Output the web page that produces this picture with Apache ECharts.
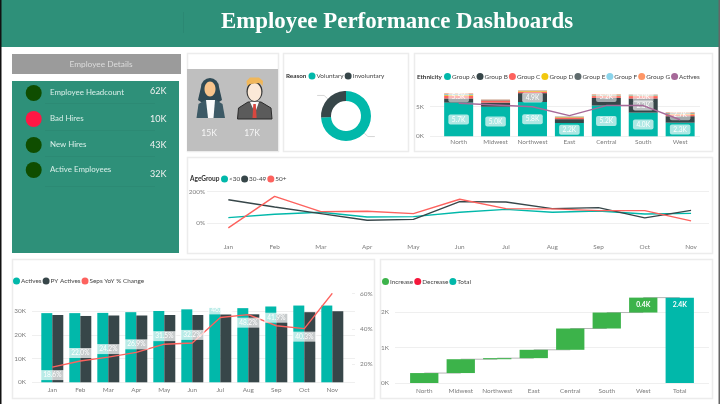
<!DOCTYPE html>
<html><head><meta charset="utf-8">
<style>html,body{margin:0;padding:0;background:#fff}#c{width:720px;height:404px}</style>
<script src="https://cdn.jsdelivr.net/npm/echarts@6/dist/echarts.min.js"></script>
</head><body><div id="c"></div>
<script>
const regions = ['North','Midwest','Northwest','East','Central','South','West'];
const groupA = [5.7,5.0,5.8,2.25,5.2,4.0,2.3];
const groupB = [0.7,0.7,1.5,0.65,1.3,2.4,1.1];
const groupC = [0.45,0.35,0.25,0.25,0.3,0.4,0.3];
const groupD = [0.12,0.02,0.1,0.08,0.08,0.08,0.1];
const groupE = [0.1,0.1,0.05,0.05,0.05,0.05,0.1];
const groupF = [0.13,0.02,0.05,0.08,0.12,0.12,0.1];
const groupG = [0.1,0.05,0.05,0.05,0.1,0.05,0.1];
const activesByRegion = [5.6,5.3,5.0,3.5,5.2,5.2,2.8];
const labelsA = ['5.7K','5.0K','5.8K','2.2K','5.2K','4.0K','2.3K'];
const labelsB = ['','','4.9K','','','2.3K',''];
const labelsC = ['5.5K','','','','5.2K','5.0K','2.7K'];

const months = ['Jan','Feb','Mar','Apr','May','Jun','Jul','Aug','Sep','Oct','Nov'];
const ageUnder30 = [36,57,70,40,42,70,88,70,78,59,63];
const age30to49 = [149,103,61,19,25,137,135,93,99,34,82];
const age50plus = [-29,170,74,76,61,152,93,91,80,80,15];

const actives = [29.2,29.2,29.3,29.6,30.1,30.8,31.4,31.3,32,32.4,32.4];
const pyActives = [28.4,28.0,28.2,28.2,28.4,28.4,28.7,28.7,28.9,29.6,30];
const sepsYoY = [18.6,22.0,24.2,26.9,31.5,32.2,46.6,48.2,41.9,40.3,60.2];
const sepsLabelSide = ['bottom','top','top','top','top','top','top','bottom','top','bottom','bottom'];

const waterfallCats = ['North','Midwest','Northwest','East','Central','South','West','Total'];
const waterfallInc = [0.28,0.39,0.03,0.235,0.6,0.45,0.42];
const waterfallTotal = 2.4;
const waterfallLabels = ['','','','','','','0.4K','2.4K'];

const reasonNames = ['Voluntary','Involuntary'];
const reasonValues = [74,26];
const kpiNames = ['Employee Headcount','Bad Hires','New Hires','Active Employees'];
const kpiValues = ['62K','10K','43K','32K'];
const genderCounts = ['15K','17K'];

const FONT = 'Lato,"Noto Sans",sans-serif';
const TEAL='#01B8AA',DARK='#374649',RED='#FD625E',YEL='#F2C80F',GREY='#5F6B6D',BLUE='#8AD4EB',ORG='#FE9666',PUR='#A66999';
const HEAD='#2E9079';
const GRIDC='#efefef', AX='#7d7d7d';
const SMALL=6.4;

function panel(x,y,w,h){return {type:'rect',z:-10,shape:{x:x+.5,y:y+.5,width:w,height:h},style:{fill:'#fff',stroke:'#ececec',lineWidth:1.5}};}
function box(x,y,w,h,fill,z){return {type:'rect',z:z||-9,shape:{x,y,width:w,height:h},style:{fill}};}
function txt(x,y,t,o){return {type:'text',z:-5,x,y,style:Object.assign({text:t,fontFamily:FONT,fontSize:8.5,fill:'#fff',textVerticalAlign:'middle',verticalAlign:'middle'},o||{})};}
function poly(pts,fill,stroke){return {type:'polygon',z:-6,shape:{points:pts},style:{fill,stroke:stroke||null,lineWidth:stroke?1:0}};}
function circ(cx,cy,r,fill){return {type:'circle',z:-6,shape:{cx,cy,r},style:{fill}};}
function ell(cx,cy,rx,ry,fill){return {type:'ellipse',z:-6,shape:{cx,cy,rx,ry},style:{fill}};}

const kpiY=[93,119,145,170], kpiVY=[91,119,145,174], kpiC=['#0F4D00','#FF1744','#0F4D00','#0F4D00'];
const lineY=[103,130,156,186];
const graphics=[
  box(0,0,720,404,'#fff',-20),
  box(1,0,718,47,HEAD),
  box(0,0,1.5,404,'#111',-4),
  box(718.5,0,1.5,404,'#666',-4),
  box(183,12,.6,21,'#2a8470',-8),
  txt(397,22.5,'Employee Performance Dashboards',{fontFamily:'"Liberation Serif",serif',fontWeight:'bold',fontSize:22.9,fill:'#fff',textAlign:'center',align:'center'}),
  box(12,54,169,20,'#9b9b9b'),
  txt(101,64,'Employee Details',{fontSize:8.3,fill:'#dcdcdc',textAlign:'center',align:'center'}),
  box(12,81,167,172,HEAD),
  panel(187,53,91,98),
  box(187,69,91,82,'#bfbfbf'),
  panel(283,53,125,98),
  panel(414,53,298,98),
  panel(187,157,525,96),
  panel(12,259,362,139),
  panel(380,259,332,139),
  // woman
  circ(210,87,9,'#2F4A55'),
  poly([[201,87],[219,87],[222,100],[216,104],[204,104],[198,100]],'#2F4A55'),
  ell(210,89,5.5,7.5,'#F7C48C'),
  poly([[196.5,118],[198.5,104],[205,100],[216,100],[222.5,104],[225,118]],'#3D5A66'),
  poly([[206,100],[215,100],[213.5,118],[208,118]],'#FAFAFA'),
  // man
  ell(254.5,91.5,8,10,'#333'),
  ell(254.5,92,6.8,9,'#FBE9D7'),
  poly([[247,86],[246.5,81],[250,77.5],[259,77.5],[263,81],[262.5,86],[260,83],[250,84]],'#F0B75A'),
  poly([[237.5,119],[238.5,108],[248,102],[261,102],[271,108],[272,119]],'#5B5B5B','#2b2b2b'),
  poly([[250,102],[259,102],[255,113]],'#FAFAFA'),
  poly([[253.3,104],[255.8,104],[256.6,118],[252.5,118]],'#D9473F'),
  txt(209,133,genderCounts[0],{fontSize:8.6,textAlign:'center',align:'center',fill:'#f6f6f6'}),
  txt(252,133,genderCounts[1],{fontSize:8.6,textAlign:'center',align:'center',fill:'#f6f6f6'}),
  txt(286,76,'Reason',{fontSize:6.3,fontWeight:'bold',fill:'#333'}),
  txt(417,76.5,'Ethnicity',{fontSize:6.3,fontWeight:'bold',fill:'#333'}),
  txt(190,179,'AgeGroup',{fontSize:6.5,fontWeight:'bold',fill:'#333'})
];
kpiNames.forEach((n,i)=>{
  graphics.push(circ(33.7,kpiY[i],8,kpiC[i]));
  graphics.push(txt(50,kpiY[i]-1,n,{fontSize:7.9,fill:'#d9efe9'}));
  graphics.push(txt(150,kpiVY[i],kpiValues[i],{fontSize:9,fill:'#f2f2f2'}));
  graphics.push(box(45,lineY[i],110,.6,'#2a8470',-8));
});

// gridline-and-label axis layers, sharing their pixel scale with the data layers
function overlayY(idx,min,max,interval,fmt,extra){return Object.assign({type:'value',gridIndex:idx,min,max,interval,
  axisLine:{show:false},axisTick:{show:false},splitLine:{show:true,lineStyle:{color:GRIDC,width:1}},
  axisLabel:{formatter:fmt,color:AX,fontSize:SMALL,fontFamily:FONT,margin:6}},extra||{});}
function overlayX(idx){return {type:'value',gridIndex:idx,min:0,max:1,show:false};}
function catX(idx,data,margin){return {type:'category',gridIndex:idx,data,axisLine:{show:false},axisTick:{show:false},
  axisLabel:{color:AX,fontSize:SMALL,fontFamily:FONT,margin,interval:0}};}
function hiddenY(idx,min,max,pos){return {type:'value',gridIndex:idx,min,max,show:false,position:pos||'left',splitLine:{show:false}};}

function legend(left,top,data,colors){return {left,top,width:400,icon:'circle',itemWidth:7,itemHeight:7,itemGap:1,padding:0,
  data:data.map((n,i)=>colors?{name:n,itemStyle:{color:colors[i]}}:{name:n}),
  selectedMode:false,textStyle:{fontSize:6.4,color:'#444',fontFamily:FONT,padding:[0,0,0,-4]}};}

const pillLabel={color:'#fff',fontSize:6.6,fontFamily:FONT,backgroundColor:'rgba(255,255,255,.68)',padding:[1.5,3.5],borderRadius:2};
function stackData(vals,labels,extra){return vals.map((v,i)=>({value:v,label:labels&&labels[i]?Object.assign({show:true,formatter:labels[i],position:'inside'},pillLabel,extra||{}):{show:false}}));}
function ethBar(name,vals,color,labels,extra){return {name,type:'bar',stack:'eth',xAxisIndex:1,yAxisIndex:1,barWidth:29,itemStyle:{color},data:stackData(vals,labels,extra),z:2};}
function line(name,vals,color,x,y,extra){return Object.assign({name,type:'line',xAxisIndex:x,yAxisIndex:y,data:vals,showSymbol:false,symbol:'none',lineStyle:{color,width:1.4},itemStyle:{color},z:4},extra||{});}

let cum=0; const wfBase=[],wfTop=[];
waterfallInc.forEach(v=>{wfBase.push(+cum.toFixed(3));cum+=v;wfTop.push(+cum.toFixed(3));});
function wfLabel(v,i){return {value:v,label:waterfallLabels[i]?{show:true,formatter:waterfallLabels[i],position:'insideTop',color:'#fff',fontSize:6.8,fontWeight:'bold',fontFamily:FONT,distance:4}:{show:false}};}

const option={
  animation:false,
  backgroundColor:'#fff',
  textStyle:{fontFamily:FONT},
  graphic:{elements:graphics},
  legend:[
    legend(308.5,72.5,reasonNames,[TEAL,DARK]),
    legend(444,73,['Group A','Group B','Group C','Group D','Group E','Group F','Group G','Actives'],[TEAL,DARK,RED,YEL,GREY,BLUE,ORG,PUR]),
    legend(221,175.5,['<30','30-49','50+'],[TEAL,DARK,RED]),
    legend(13,277.5,['Actives','PY Actives','Seps YoY % Change'],[TEAL,DARK,RED]),
    legend(382,278,['Increase','Decrease','Total'],['#3CB34A','#F5163B',TEAL])
  ],
  grid:[
    {left:430,width:270,top:106.7,height:29.6},
    {left:440.2,width:258.4,top:89,height:47.3},
    {left:207,width:502,top:191.7,height:31.6},
    {left:205.2,width:509,top:191.7,height:47.4},
    {left:32,width:323,top:311.3,height:71},
    {left:352,width:3,top:293.7,height:70.6},
    {left:38.3,width:308,top:293.7,height:88.6},
    {left:395,width:314,top:312,height:71},
    {left:406,width:292,top:290.7,height:92.3}
  ],
  xAxis:[
    overlayX(0),catX(1,regions,3),
    overlayX(2),catX(3,months,5),
    overlayX(4),overlayX(5),catX(6,months,5),
    overlayX(7),catX(8,waterfallCats,5)
  ],
  yAxis:[
    overlayY(0,0,5,5,'{value}K'),hiddenY(1,0,8),
    overlayY(2,0,200,200,'{value}%',{axisLabel:{formatter:'{value}%',color:AX,fontSize:SMALL,fontFamily:FONT,margin:2}}),hiddenY(3,-100,200),
    overlayY(4,0,30,10,'{value}K'),
    overlayY(5,20,60,20,'{value}%',{position:'right',axisLabel:{formatter:'{value}%',color:AX,fontSize:SMALL,fontFamily:FONT,margin:5}}),
    hiddenY(6,0,37.4),
    overlayY(7,0,2,1,'{value}K'),hiddenY(8,0,2.6),
    hiddenY(6,10,60,'right')
  ],
  series:[
    {name:'Reason',type:'pie',center:[346,116],radius:[15,25],startAngle:90,clockwise:true,
      label:{show:true,formatter:' ',fontSize:6,color:'transparent'},labelLine:{show:true,length:5,length2:7,lineStyle:{color:'#ccc',width:.8}},
      data:reasonNames.map((n,i)=>({name:n,value:reasonValues[i],itemStyle:{color:[TEAL,DARK][i]}})),emphasis:{disabled:true}},
    ethBar('Group A',groupA,TEAL,labelsA),
    ethBar('Group B',groupB,DARK,labelsB),
    ethBar('Group C',groupC,RED,labelsC,{backgroundColor:'rgba(255,255,255,.55)'}),
    ethBar('Group D',groupD,YEL),
    ethBar('Group E',groupE,GREY),
    ethBar('Group F',groupF,BLUE),
    ethBar('Group G',groupG,ORG),
    line('Actives',activesByRegion,PUR,1,1),
    line('<30',ageUnder30,TEAL,3,3),
    line('30-49',age30to49,DARK,3,3),
    line('50+',age50plus,RED,3,3),
    {name:'Actives',type:'bar',xAxisIndex:6,yAxisIndex:6,barWidth:11,barGap:0,data:actives,itemStyle:{color:TEAL},z:2},
    {name:'PY Actives',type:'bar',xAxisIndex:6,yAxisIndex:6,barWidth:11,barGap:0,data:pyActives,itemStyle:{color:DARK},z:2},
    line('Seps YoY % Change',sepsYoY.map((v,i)=>({value:v,label:{show:true,position:sepsLabelSide[i],distance:3,formatter:v.toFixed(1)+'%',
        color:'#fff',fontSize:6.6,fontFamily:FONT,backgroundColor:'rgba(255,255,255,.72)',padding:[1.5,3]}})),RED,6,9,{showSymbol:true,symbol:'circle',symbolSize:0.1,showAllSymbol:true}),
    {name:'base',type:'bar',stack:'wf',xAxisIndex:8,yAxisIndex:8,barWidth:28.3,data:wfBase.concat([0]),itemStyle:{color:'transparent'},z:2,silent:true},
    {name:'Increase',type:'bar',stack:'wf',xAxisIndex:8,yAxisIndex:8,barWidth:28.3,itemStyle:{color:'#3CB34A'},z:3,
      data:waterfallInc.map(wfLabel).concat(['-'])},
    {name:'Decrease',type:'bar',stack:'wf',xAxisIndex:8,yAxisIndex:8,barWidth:28.3,itemStyle:{color:'#F5163B'},data:[]},
    {name:'Total',type:'bar',stack:'wf',xAxisIndex:8,yAxisIndex:8,barWidth:28.3,itemStyle:{color:TEAL},z:3,
      data:waterfallInc.map(()=>'-').concat([wfLabel(waterfallTotal,7)])},
    {name:'connector',type:'custom',xAxisIndex:8,yAxisIndex:8,z:2,silent:true,
      data:wfTop.map((v,i)=>[i,v]),
      renderItem(p,api){const a=api.coord([api.value(0),api.value(1)]),b=api.coord([api.value(0)+1,api.value(1)]);
        return {type:'line',shape:{x1:a[0],y1:a[1],x2:b[0],y2:b[1]},style:{stroke:'#b5b5b5',lineWidth:1}};}}
  ]
};
const chart=echarts.init(document.getElementById('c'),null,{renderer:'canvas'});
chart.setOption(option);
</script></body></html>
